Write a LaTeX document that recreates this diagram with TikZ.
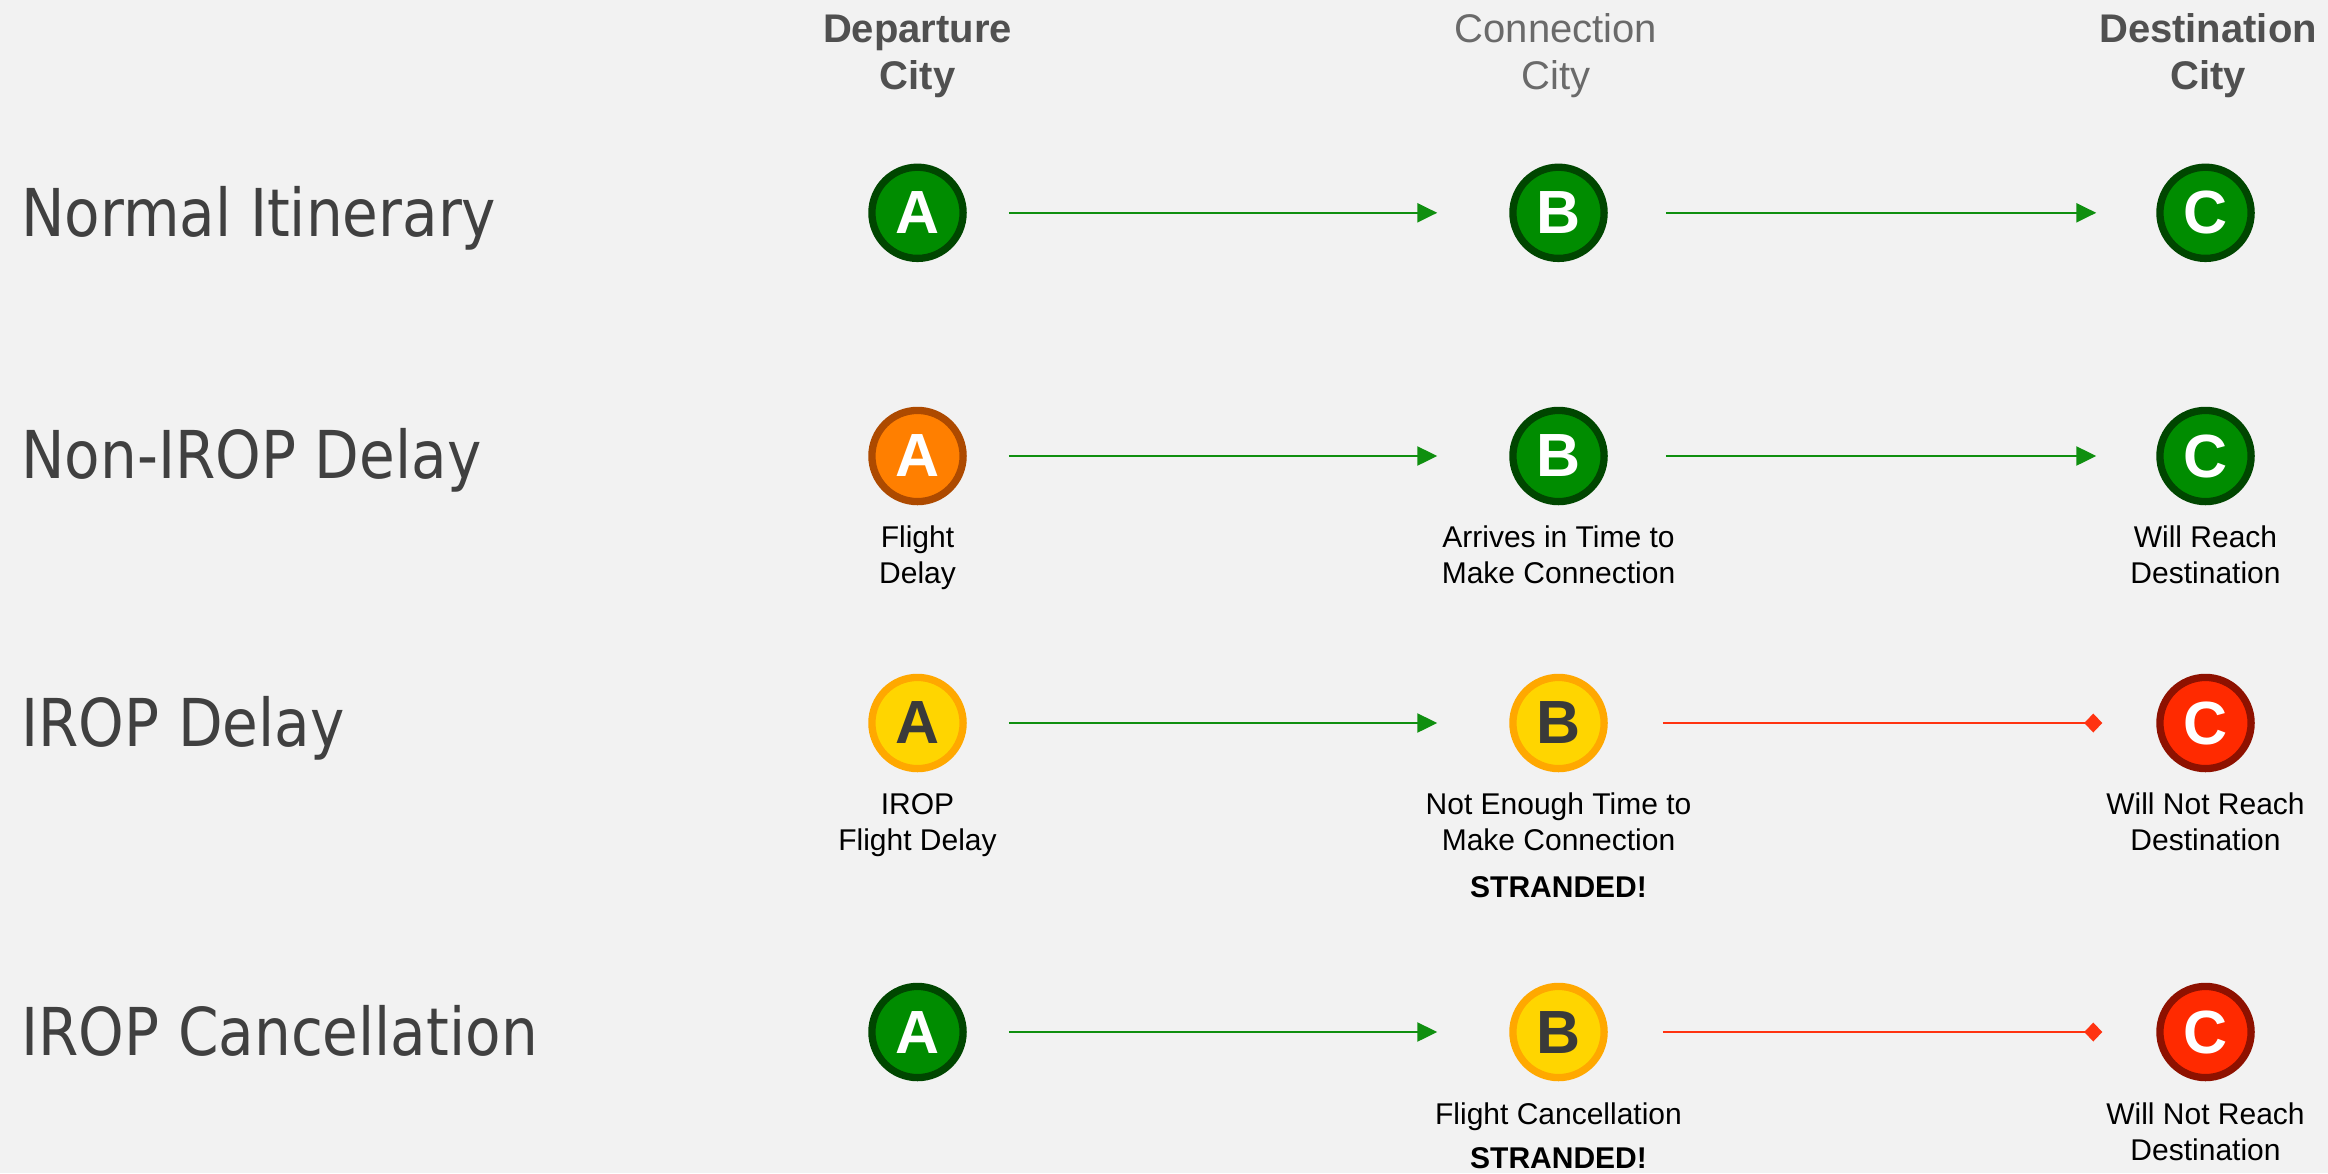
\documentclass[tikz,border=0pt]{standalone}
\usepackage{fontspec}
\setmainfont{Liberation Sans}
\newfontfamily\rowfont[FakeStretch=0.88]{DejaVu Sans}
\usetikzlibrary{arrows.meta,calc}
\definecolor{bg}{HTML}{F2F2F2}
\definecolor{cgreen}{HTML}{008C00}
\definecolor{cgreenD}{HTML}{004600}
\definecolor{corange}{HTML}{FF7F00}
\definecolor{corangeD}{HTML}{AD4A00}
\definecolor{cyellow}{HTML}{FFD500}
\definecolor{cyellowD}{HTML}{FFA800}
\definecolor{cred}{HTML}{FF2A00}
\definecolor{credD}{HTML}{8E1100}
\definecolor{letterD}{HTML}{3A3A3A}
\definecolor{agreen}{HTML}{0F8F0F}
\definecolor{ared}{HTML}{FF3311}
\definecolor{rowgray}{HTML}{404040}
\definecolor{hdrgray}{HTML}{505050}
\definecolor{hdrlight}{HTML}{6A6A6A}
\begin{document}
\begin{tikzpicture}[x=0.5pt,y=-0.5pt,
  city/.style={circle, minimum size=45.6pt, inner sep=0pt, line width=3.65pt,
    font=\fontsize{30.5}{30.5}\selectfont\bfseries},
  gcity/.style={city, fill=cgreen, draw=cgreenD, text=white},
  ocity/.style={city, fill=corange, draw=corangeD, text=white},
  ycity/.style={city, fill=cyellow, draw=cyellowD, text=letterD},
  rcity/.style={city, fill=cred, draw=credD, text=white},
  rowlbl/.style={anchor=base west, inner sep=0pt, text=rowgray,
    font=\rowfont\fontsize{33}{33}\selectfont},
  hdr/.style={anchor=base, inner sep=0pt, text=hdrgray,
    font=\fontsize{20}{24}\selectfont\bfseries},
  hdrthin/.style={anchor=base, inner sep=0pt, text=hdrlight,
    font=\fontsize{20}{24}\selectfont},
  lbl/.style={anchor=base, inner sep=0pt, text=black,
    font=\fontsize{15}{18}\selectfont},
  strand/.style={anchor=base, inner sep=0pt, text=black,
    font=\fontsize{15}{18}\selectfont\bfseries},
  okarrow/.style={draw=agreen, line width=1.2pt,
    -{Triangle[length=10pt,width=9.5pt]}, shorten <=21pt, shorten >=36pt},
  okarrowb/.style={draw=agreen, line width=1.2pt,
    -{Triangle[length=10pt,width=9.5pt]}, shorten <=29pt, shorten >=30pt},
  badarrow/.style={draw=ared, line width=1.1pt,
    -{Diamond[length=9pt,width=9.5pt]}, shorten <=27.5pt, shorten >=27pt}
]
\fill[bg] (0,0) rectangle (2328,1173);
\useasboundingbox (0,0) rectangle (2328,1173);

% headers
\node[hdr] (h1a) at (917.5,42) {Departure};
\node[hdr] (h1b) at (917.5,89) {City};
\node[hdrthin] (h2a) at (1556,42) {Connection};
\node[hdrthin] (h2b) at (1556,89) {City};
\node[hdr] (h3a) at (2208,42) {Destination};
\node[hdr] (h3b) at (2208,89) {City};

% row labels
\node[rowlbl] (r1) at (21,236) {Normal Itinerary};
\node[rowlbl] (r2) at (21,478) {Non-IROP Delay};
\node[rowlbl] (r3) at (21,746) {IROP Delay};
\node[rowlbl] (r4) at (21,1055) {IROP Cancellation};

% row 1
\node[gcity] (a1) at (917.5,212.8) {A};
\node[gcity] (b1) at (1558.5,212.8) {B};
\node[gcity] (c1) at (2205.5,212.8) {C};
\draw[okarrow] (a1) -- (b1);
\draw[okarrowb] (b1) -- (c1);

% row 2
\node[ocity] (a2) at (917.5,456) {A};
\node[gcity] (b2) at (1558.5,456) {B};
\node[gcity] (c2) at (2205.5,456) {C};
\draw[okarrow] (a2) -- (b2);
\draw[okarrowb] (b2) -- (c2);
\node[lbl] (la2a) at ($(a2)+(0,91)$) {Flight};
\node[lbl] (la2b) at ($(a2)+(0,127)$) {Delay};
\node[lbl] (lb2a) at ($(b2)+(0,91)$) {Arrives in Time to};
\node[lbl] (lb2b) at ($(b2)+(0,127)$) {Make Connection};
\node[lbl] (lc2a) at ($(c2)+(0,91)$) {Will Reach};
\node[lbl] (lc2b) at ($(c2)+(0,127)$) {Destination};

% row 3
\node[ycity] (a3) at (917.5,723) {A};
\node[ycity] (b3) at (1558.5,723) {B};
\node[rcity] (c3) at (2205.5,723) {C};
\draw[okarrow] (a3) -- (b3);
\draw[badarrow] (b3) -- (c3);
\node[lbl] (la3a) at ($(a3)+(0,91)$) {IROP};
\node[lbl] (la3b) at ($(a3)+(0,127)$) {Flight Delay};
\node[lbl] (lb3a) at ($(b3)+(0,91)$) {Not Enough Time to};
\node[lbl] (lb3b) at ($(b3)+(0,127)$) {Make Connection};
\node[strand] (lb3c) at ($(b3)+(0,174)$) {STRANDED!};
\node[lbl] (lc3a) at ($(c3)+(0,91)$) {Will Not Reach};
\node[lbl] (lc3b) at ($(c3)+(0,127)$) {Destination};

% row 4
\node[gcity] (a4) at (917.5,1032) {A};
\node[ycity] (b4) at (1558.5,1032) {B};
\node[rcity] (c4) at (2205.5,1032) {C};
\draw[okarrow] (a4) -- (b4);
\draw[badarrow] (b4) -- (c4);
\node[lbl] (lb4a) at ($(b4)+(0,92)$) {Flight Cancellation};
\node[strand] (lb4b) at ($(b4)+(0,136)$) {STRANDED!};
\node[lbl] (lc4a) at ($(c4)+(0,92)$) {Will Not Reach};
\node[lbl] (lc4b) at ($(c4)+(0,128)$) {Destination};
\end{tikzpicture}
\end{document}
